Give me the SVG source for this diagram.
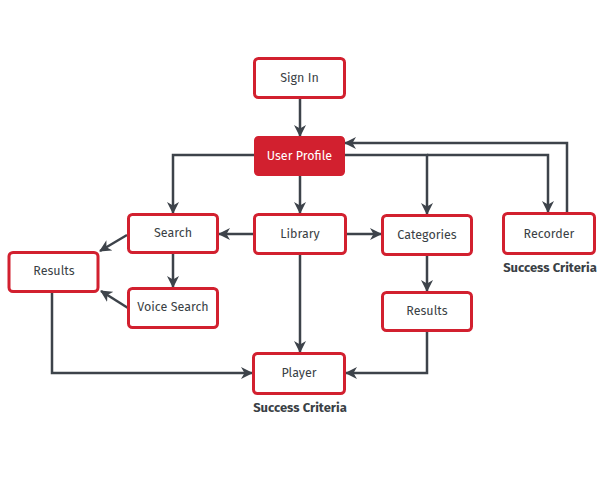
<svg xmlns="http://www.w3.org/2000/svg" width="600" height="479" viewBox="0 0 600 479">
<defs>
<style>
.box{fill:#fff;stroke:#d2202f;stroke-width:3}
.fill{fill:#d2202f;stroke:#d2202f;stroke-width:3}
.lbl{font-family:"Fira Sans","Open Sans","Noto Sans",sans-serif;font-size:12.5px;fill:#3a3f45;text-anchor:middle}
.wl{fill:#fff}
.sc{font-family:"Fira Sans","Open Sans","Noto Sans",sans-serif;font-size:13px;font-weight:bold;fill:#3a3f45;text-anchor:middle}
.c{fill:none;stroke:#3d434a;stroke-width:2.5;marker-end:url(#ah)}
</style>
<marker id="ah" viewBox="0 0 12 12" refX="11" refY="6" markerWidth="12" markerHeight="12" markerUnits="userSpaceOnUse" orient="auto">
<path d="M0,0 L12,6 L0,12 L3.5,6 z" fill="#3d434a"/>
</marker>
</defs>
<rect width="600" height="479" fill="#fff"/>
<g id="connectors">
<path class="c" d="M300,98 V136"/>
<path class="c" d="M255,155 H173 V213"/>
<path class="c" d="M300,175 V213"/>
<path class="c" d="M344,155 H427 V214"/>
<path class="c" d="M427,155 H548 V212"/>
<path class="c" d="M567,213 V143 H345"/>
<path class="c" d="M254,234 H219"/>
<path class="c" d="M346,234 H381"/>
<path class="c" d="M173,253 V287"/>
<path class="c" d="M127,235 L100,251"/>
<path class="c" d="M128,308 L101,291"/>
<path class="c" d="M52,292 V373 H252"/>
<path class="c" d="M300,254 V352"/>
<path class="c" d="M427,254 V291"/>
<path class="c" d="M427,331 V373 H346"/>
</g>
<g id="signin"><rect class="box" x="254.5" y="58.5" width="90" height="39" rx="4"/><text class="lbl" x="299.5" y="82">Sign In</text></g>
<g id="userprofile"><rect class="fill" x="255.5" y="137.5" width="88" height="37" rx="3"/><text class="lbl wl" x="299.5" y="160">User Profile</text></g>
<g id="search"><rect class="box" x="128.5" y="214.5" width="89" height="38" rx="4"/><text class="lbl" x="173" y="237">Search</text></g>
<g id="library"><rect class="box" x="254.5" y="214.5" width="91" height="39" rx="4"/><text class="lbl" x="300" y="238">Library</text></g>
<g id="categories"><rect class="box" x="382.5" y="215.5" width="89" height="39" rx="4"/><text class="lbl" x="427" y="239">Categories</text></g>
<g id="recorder"><rect class="box" x="503.5" y="213.5" width="91" height="40" rx="4"/><text class="lbl" x="549" y="238">Recorder</text><text class="sc" x="550" y="272">Success Criteria</text></g>
<g id="results-left"><rect class="box" x="9" y="252.5" width="89" height="39" rx="4"/><text class="lbl" x="54" y="275">Results</text></g>
<g id="voicesearch"><rect class="box" x="128.5" y="288.5" width="89" height="39" rx="4"/><text class="lbl" x="173" y="311">Voice Search</text></g>
<g id="results-right"><rect class="box" x="382.5" y="292.5" width="89" height="38" rx="4"/><text class="lbl" x="427" y="315">Results</text></g>
<g id="player"><rect class="box" x="253.5" y="353.5" width="91" height="40" rx="4"/><text class="lbl" x="299" y="377">Player</text><text class="sc" x="300" y="412">Success Criteria</text></g>
</svg>
